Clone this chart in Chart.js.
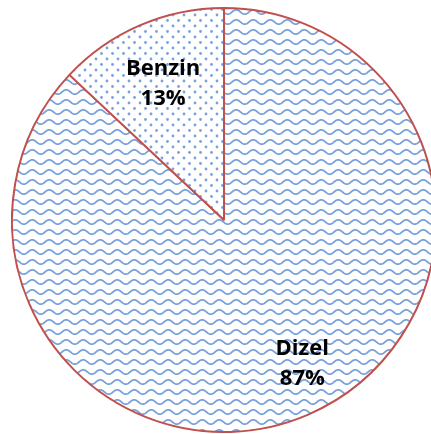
<!DOCTYPE html>
<html>
<head>
<meta charset="utf-8">
<script src="https://cdn.jsdelivr.net/npm/chart.js@4"></script>
<style>
    html, body { margin: 0; padding: 0; background: #ffffff; overflow: hidden; }
    #wrap { position: absolute; left: 11px; top: 7px; width: 426px; height: 426px; }
</style>
</head>
<body>
<div id="wrap"><canvas id="pie"></canvas></div>
<script>
// Fuel type share
const labels = ['Dizel', 'Benzin'];
const values = [87, 13];
const percentLabels = ['87%', '13%'];

const BLUE = '#79a2dd';
const BORDER = '#c0504d';

// Wave fill (Dizel)
function wavePattern() {
    const c = document.createElement('canvas');
    c.width = 17; c.height = 10;
    const g = c.getContext('2d');
    g.fillStyle = '#ffffff';
    g.fillRect(0, 0, 17, 10);
    g.strokeStyle = BLUE;
    g.lineWidth = 1.8;
    g.beginPath();
    for (let x = -1; x <= 18; x += 0.5) {
        const y = 5 - 2.2 * Math.sin((x / 17) * Math.PI * 2);
        if (x === -1) g.moveTo(x, y); else g.lineTo(x, y);
    }
    g.stroke();
    return g.createPattern(c, 'repeat');
}

// Dotted fill (Benzin)
function dotPattern() {
    const c = document.createElement('canvas');
    c.width = 11; c.height = 11;
    const g = c.getContext('2d');
    g.fillStyle = '#ffffff';
    g.fillRect(0, 0, 11, 11);
    g.fillStyle = BLUE;
    [[2.5, 2.5], [8, 8]].forEach(([x, y]) => {
        g.beginPath();
        g.arc(x, y, 1.4, 0, Math.PI * 2);
        g.fill();
    });
    return g.createPattern(c, 'repeat');
}

// Draw "name / percent" labels inside the slices
const sliceLabels = {
    id: 'sliceLabels',
    afterDatasetsDraw(chart, args, opts) {
        const ctx = chart.ctx;
        const meta = chart.getDatasetMeta(0);
        ctx.save();
        ctx.fillStyle = '#000000';
        ctx.font = 'bold 22px "Open Sans", "Liberation Sans", sans-serif';
        ctx.textAlign = 'center';
        ctx.textBaseline = 'middle';
        meta.data.forEach((arc, i) => {
            const p = arc.getProps(['x', 'y', 'startAngle', 'endAngle', 'outerRadius'], true);
            const mid = (p.startAngle + p.endAngle) / 2;
            const r = p.outerRadius * opts.factors[i];
            const cx = p.x + Math.cos(mid) * r + opts.shiftX[i];
            const cy = p.y + Math.sin(mid) * r;
            ctx.fillText(labels[i], cx, cy - 15);
            ctx.fillText(percentLabels[i], cx, cy + 15);
        });
        ctx.restore();
    }
};

new Chart(document.getElementById('pie'), {
    type: 'pie',
    data: {
        labels,
        datasets: [{
            data: values,
            backgroundColor: [wavePattern(), dotPattern()],
            borderColor: BORDER,
            borderWidth: 2,
            hoverOffset: 0,
        }],
    },
    options: {
        responsive: true,
        maintainAspectRatio: false,
        animation: false,
        layout: { padding: 0 },
        plugins: {
            legend: { display: false },
            tooltip: { enabled: false },
            sliceLabels: { factors: [0.74, 0.7], shiftX: [16, -2] },
        },
    },
    plugins: [sliceLabels],
});
</script>
</body>
</html>
